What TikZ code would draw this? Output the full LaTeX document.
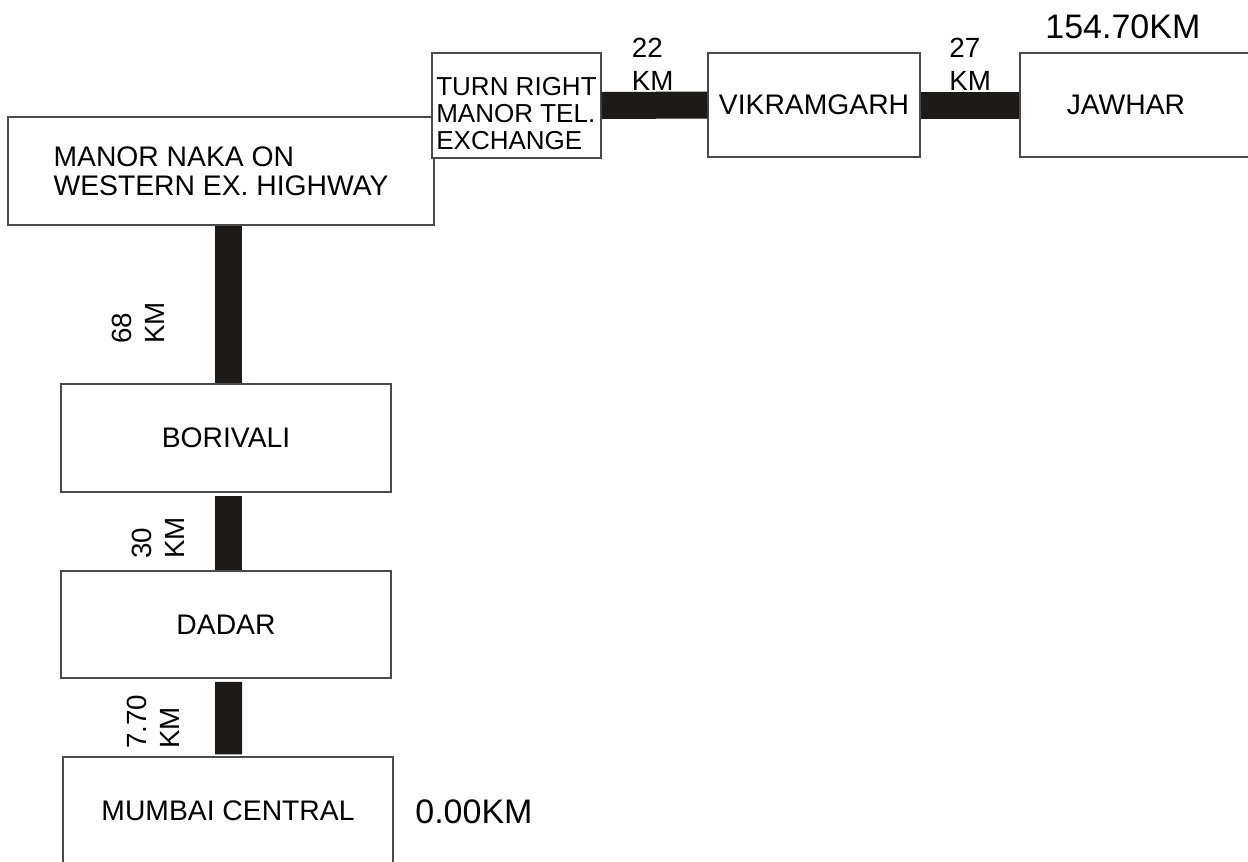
\documentclass[tikz,border=0pt]{standalone}
\usepackage{fontspec}
\setmainfont{Liberation Sans}
\usetikzlibrary{positioning}
\definecolor{EdgeGray}{HTML}{4A4A4A}
\definecolor{RoadBlack}{HTML}{1E1A18}
\tikzset{
  stop/.style={rectangle,draw=EdgeGray,line width=0.85pt,fill=white,
               font=\fontsize{16.1}{16.7}\selectfont,align=left,inner sep=0pt},
  road/.style={line width=0.54cm,color=RoadBlack},
  dist/.style={inner sep=0pt,align=left,font=\fontsize{15.8}{18.6}\selectfont},
  total/.style={inner sep=0pt,anchor=base west,font=\fontsize{19.35}{20}\selectfont},
}
\begin{document}
\begin{tikzpicture}
  \path[use as bounding box,clip] (0,0) rectangle (24.96,-17.22);

  % places
  \node[stop,minimum width=8.52cm,minimum height=2.16cm] (naka) at (4.42,-3.42)
    {MANOR NAKA ON\\WESTERN EX. HIGHWAY};
  \node[stop,minimum width=3.38cm,minimum height=2.10cm,text height=1.78cm,
        font=\fontsize{14.8}{15.4}\selectfont] (turn) at (10.33,-2.11)
    {TURN RIGHT\\MANOR TEL.\\EXCHANGE};
  \node[stop,minimum width=4.24cm,minimum height=2.08cm] (vik) at (16.28,-2.10) {VIKRAMGARH};
  \node[stop,anchor=west,text width=3.12cm,inner xsep=0.94cm,minimum height=2.08cm]
    (jaw) at (20.38,-2.10) {JAWHAR};
  \node[stop,minimum width=6.6cm,minimum height=2.16cm] (bori) at (4.52,-8.76) {BORIVALI};
  \node[stop,minimum width=6.6cm,minimum height=2.14cm] (dadar) at (4.52,-12.49) {DADAR};
  \node[stop,minimum width=6.6cm,minimum height=2.16cm] (mumbai) at (4.56,-16.22) {MUMBAI CENTRAL};

  % roads
  \draw[road] (turn.east) -- (vik.west);
  \draw[road] (vik.east) -- (jaw.west);
  \draw[road] ([xshift=0.05cm]naka.south -| bori.north) -- ([xshift=0.05cm]bori.north);
  \draw[road] ([xshift=0.05cm,yshift=-0.06cm]bori.south) -- ([xshift=0.05cm]dadar.north);
  \draw[road] ([xshift=0.05cm,yshift=-0.06cm]dadar.south) -- ([xshift=0.01cm,yshift=0.04cm]mumbai.north);

  % distances
  \node[dist,anchor=south west] (km22) at (12.63,-1.82) {22\\KM};
  \node[dist,anchor=south west] (km27) at (18.98,-1.81) {27\\KM};
  \node[dist,anchor=south west,rotate=90] (km68) at (3.30,-6.88) {68\\KM};
  \node[dist,anchor=south west,rotate=90] (km30) at (3.70,-11.18) {30\\KM};
  \node[dist,anchor=south west,rotate=90] (km770) at (3.60,-14.98) {7.70\\KM};

  \node[total] (end) at (20.90,-0.76) {154.70KM};
  \node[total] (start) at (8.30,-16.46) {0.00KM};
\end{tikzpicture}
\end{document}
